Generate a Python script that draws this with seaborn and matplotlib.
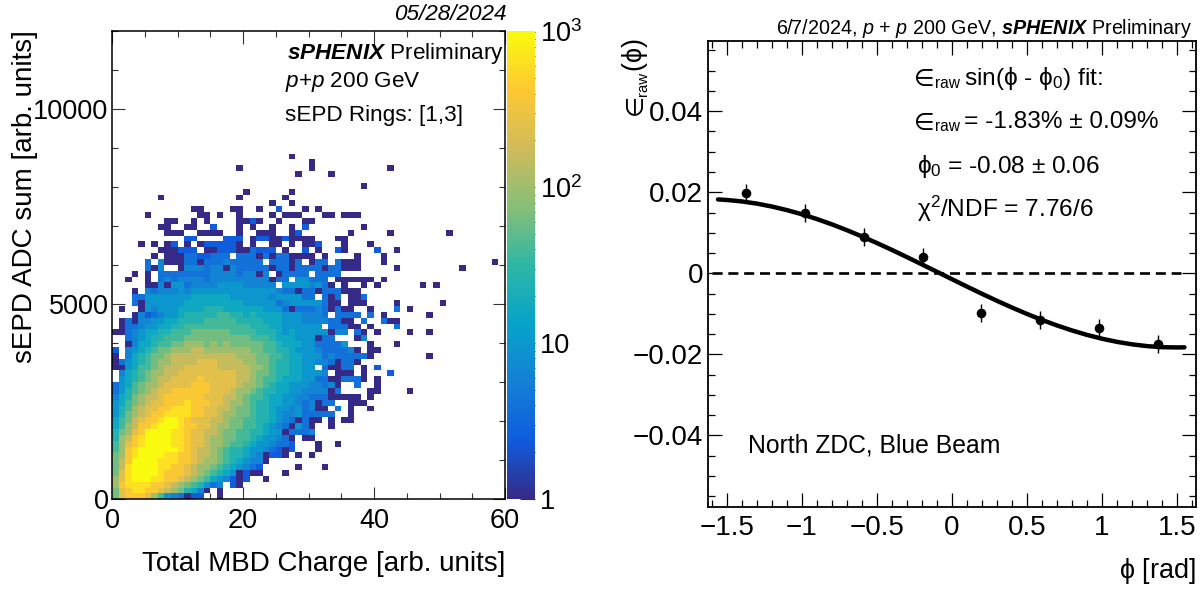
import numpy as np
import pandas as pd
import matplotlib
matplotlib.use("Agg")
import matplotlib.pyplot as plt
from matplotlib.colors import LinearSegmentedColormap, LogNorm
from matplotlib.ticker import FixedLocator, NullFormatter
import seaborn as sns

# ---- left panel: 60 x 60 cells, bottom row first; hex digit = count level, '.' = empty
COUNT_ROWS = [
 "9cdddca854 3022..0",
 "9cdeeddcba 97640.0",
 "adeeeeddcb a987534.20",
 "acefffeedd cba9865420 2..0",
 "9ceffffedd dcba987650 200...0",
 "9beffffeed dcbaa98765 432.....0. ..0",
 "9bdffffeee ddcbaa9876 5440......",
 "9adeffffee ddcbba9877 6540220.0. 0",
 "8adeffffff edcbba9877 65543202.. .0",
 "8acdeffffe edccbaa988 76554332.. .0..0",
 "7abdeffffe edccbaa998 87655430.0 0",
 "79acdffffe edccbba998 8776550333 4",
 "68abddefff eddccbaa99 8876543053 0..0",
 "689bcddeff edcccbba99 8877654303 00.0.00",
 "579abcddee eeddccbaa9 9877654453 3333..0",
 "578abccdde eeddccbba9 9877655453 400.3.0..0",
 "5689abccdd dedddccbaa 9877665543 4033..000.",
 "4679abbcdd ddddcccbba 9887665544 33300000.0",
 "35789abccd dddddcccba a987766554 44403....0 0....0",
 "35689aabcc ccdddccccb aa98766555 44340..3.. 0",
 ".56789abbc cccdcccccb ba98876665 533003330. 0",
 ".46789aabb cccccccccb ba99877665 554.000.0. ..2",
 "0056889abb bcccccbbbb baa9877665 5.30033.0. 2",
 "0356789aab bbbcccbbbb aa99877665 54430330",
 "0.467899ab bbbbbbbbba aa99887665 5534333330 ........0",
 "2.4567899a aabbaaaaaa a998877655 54333340.0 0",
 "..04667889 9aaa9a9a99 9998876665 533335...0 ...0",
 "..34567788 8999999999 9888766655 5033...04",
 "0034566778 8899999988 8877765655 555044.30. 0....0..0",
 ".033455667 7888888888 8777665555 55.33300.0 ...3",
 ".030445566 7777888887 7776665554 4443300.3. .300",
 "...0423455 6777778877 6766665554 443.3333.3 .0......0",
 ".0..054555 6666777666 6665553033 3430300..0 ...3.0",
 "...3055555 5666666666 5555534555 55300.000. ...0......0",
 "...3355555 5566666655 5555455553 3.303.003.",
 "...0.43444 5455555555 5555543303 30333000..",
 ".....00405 5344445555 44444.5555 4530.0..0. 0......0.0",
 "..0..0.343 4444344444 4444033.55 333.000000 .0",
 "...0.0.333 3333344443 4404.03333 .3333",
 ".....304.. 0444344043 3333033033 33033000.. ...0...... ...0",
 ".....3.400 0330333433 333.33303. 033.3000.. .0........ ........0",
 "......0.00 03322333.3 3303033000 0.0....0.. .0",
 ".......000 222.002220 03222.0..2 .0..20.... 2..0",
 "....0.0.02 .0.0222220 .0..00.0.0 02...0...0",
 ".......... .22....222 .022002000 0...00",
 "........00 0..0000..0 ..000..02. ......0... ..0....... .0",
 ".......00. .00..2...0 .0..0..0.2 ........0.",
 "........00 ..0.0....0 020..0...0 0",
 ".....0.... ...00.0..0 ....0.000. ..00.000",
 ".......... ..00....00 ..0..2...0 .0",
 ".......... .......... ....0..0",
 ".......0.. .........0 ......0",
 ".......... .......... 0......0",
 ".......... .......... .......... ........0",
 "",
 ".......... .......... ........0. ...0",
 ".......... .........0 .......... 0......... ..0",
 ".......... .......... .......... 0",
 ".......... .......... .......0",
 "",
]
LEVEL_COUNTS = {"0": 1, "1": 1.6, "2": 2.5, "3": 4, "4": 6.3, "5": 10, "6": 16, "7": 25,
                "8": 40, "9": 63, "a": 100, "b": 158, "c": 251, "d": 398, "e": 631, "f": 1000}
X_TICKS_L = [0, 20, 40, 60]
Y_TICKS_L = [0, 5000, 10000]

# ---- right panel
PHI = [-1.374, -0.982, -0.589, -0.196, 0.196, 0.589, 0.982, 1.374]
ASYM = [0.0198, 0.0148, 0.0089, 0.0041, -0.0099, -0.0115, -0.0136, -0.0175]
ASYM_ERR = [0.0022, 0.0022, 0.0022, 0.0022, 0.0022, 0.0022, 0.0022, 0.0022]
FIT_PHI = [-1.56, -1.5, -1.4, -1.3, -1.2, -1.1, -1.0, -0.9, -0.8, -0.7, -0.6, -0.5, -0.4, -0.3, -0.2, -0.1,
           0.0, 0.1, 0.2, 0.3, 0.4, 0.5, 0.6, 0.7, 0.8, 0.9, 1.0, 1.1, 1.2, 1.3, 1.4, 1.5, 1.55]
FIT_ASYM = [0.01823, 0.01809, 0.01773, 0.01719, 0.01647, 0.01559, 0.01456, 0.01338, 0.01207, 0.01063,
            0.00909, 0.00746, 0.00576, 0.00399, 0.00219, 0.00037, -0.00146, -0.00328, -0.00506, -0.00679,
            -0.00845, -0.01003, -0.01151, -0.01287, -0.01410, -0.01520, -0.01614, -0.01692, -0.01753,
            -0.01797, -0.01823, -0.01830, -0.01827]
X_TICKS_R = [-1.5, -1, -0.5, 0, 0.5, 1, 1.5]
X_LABELS_R = ["\u22121.5", "\u22121", "\u22120.5", "0", "0.5", "1", "1.5"]
Y_TICKS_R = [-0.04, -0.02, 0, 0.02, 0.04]
Y_LABELS_R = ["\u22120.04", "\u22120.02", "0", "0.02", "0.04"]

BIRD = [(0.2082, 0.1664, 0.5293), (0.0592, 0.3599, 0.8684), (0.0780, 0.5041, 0.8385),
        (0.0232, 0.6419, 0.7914), (0.1802, 0.7178, 0.6425), (0.5301, 0.7492, 0.4662),
        (0.8186, 0.7328, 0.3499), (0.9956, 0.7862, 0.1968), (0.9764, 0.9832, 0.0539)]

sns.set_theme(style="ticks")
plt.rcParams.update({
    "font.family": ["Liberation Sans", "DejaVu Sans"],
    "mathtext.fontset": "custom",
    "mathtext.rm": "Liberation Sans",
    "mathtext.it": "Liberation Sans:italic",
    "mathtext.bf": "Liberation Sans:bold",
    "mathtext.bfit": "Liberation Sans:italic:bold",
    "mathtext.fallback": "stixsans",
    "text.color": "black", "axes.labelcolor": "black",
    "xtick.color": "black", "ytick.color": "black",
})

W, H = 1201, 590
fig = plt.figure(figsize=(W / 100, H / 100), dpi=100, facecolor="white")


def box(x0, y0, x1, y1):
    return [x0 / W, 1 - y1 / H, (x1 - x0) / W, (y1 - y0) / H]


def label(x, y, s, size, ha="left", va="center", **kw):
    fig.text(x / W, 1 - y / H, s, fontsize=size, ha=ha, va=va, **kw)


def eps_raw(y):
    """The raw-asymmetry symbol with its subscript, baseline at pixel row y."""
    label(914, y + 1.5, "\u2208", 17, va="baseline", family="DejaVu Sans")
    label(935, y + 3, "raw", 11.2, va="baseline")


def frame(ax, lw=1.1):
    for sp in ax.spines.values():
        sp.set_visible(True)
        sp.set_linewidth(lw)
        sp.set_color("black")


# ---------------- left panel
grid = np.full((60, 60), np.nan)
for r, row in enumerate(COUNT_ROWS):
    for c, ch in enumerate(row.replace(" ", "")):
        if ch != ".":
            grid[r, c] = LEVEL_COUNTS[ch]
frame_df = pd.DataFrame(grid)

axL = fig.add_axes(box(112, 30.5, 505, 499.3))
cax = fig.add_axes(box(507, 30.5, 534.5, 499.3))
cmap = LinearSegmentedColormap.from_list("bird", BIRD, N=255)
sns.heatmap(frame_df, ax=axL, cbar_ax=cax, cmap=cmap, norm=LogNorm(vmin=1, vmax=1015),
            xticklabels=False, yticklabels=False, square=False)
axL.set_xlim(0, 60)
axL.set_ylim(0, 80)  # 150 units per row, 12000 at the top
axL.set_aspect("auto")
Y_UNIT = 150.0
axL.set_xticks(X_TICKS_L)
axL.set_xticklabels([str(v) for v in X_TICKS_L])
axL.set_yticks([v / Y_UNIT for v in Y_TICKS_L])
axL.set_yticklabels([str(v) for v in Y_TICKS_L], rotation=0)
axL.set_xticks(np.arange(0, 61, 5), minor=True)
axL.set_yticks(np.arange(0, 12001, 1000) / Y_UNIT, minor=True)
axL.tick_params(which="major", direction="in", length=9, width=0.8, top=True, right=True,
                labelsize=19.5, color="#333333", pad=6)
axL.tick_params(which="minor", direction="in", length=4.6, width=0.8, top=True, right=True, color="#333333")
axL.tick_params(axis="y", which="major", pad=2.5)
frame(axL)

cbar = axL.collections[0].colorbar
cbar.outline.set_visible(False)
cbar.set_ticks([1, 10, 100, 1000])
cbar.set_ticklabels(["1", "10", "$\\mathregular{10^{2}}$", "$\\mathregular{10^{3}}$"])
cax.yaxis.set_minor_locator(FixedLocator(
    [m * d for d in (1, 10, 100) for m in range(2, 10)]))
cax.yaxis.set_minor_formatter(NullFormatter())
cax.tick_params(which="major", direction="in", length=10.5, width=0.8, labelsize=19.5,
                color="#333333", pad=4, right=True, left=False)
cax.tick_params(which="minor", direction="in", length=5.2, width=0.8, color="#333333",
                right=True, left=False)

label(507, 14.5, "05/28/2024", 16.2, ha="right", style="italic")
label(287, 53, "$\\mathbfit{sPHENIX}$ Preliminary", 16.2)
label(285, 82, "$\\mathit{p}$+$\\mathit{p}$ 200 GeV", 16.2)
label(285, 115, "sEPD Rings: [1,3]", 16.2)
label(505, 564, "Total MBD Charge [arb. units]", 20, ha="right")
label(25, 30, "sEPD ADC sum [arb. units]", 20, ha="center", va="top", rotation=90)

# ---------------- right panel
axR = fig.add_axes(box(707.5, 40.7, 1195.7, 506.7))
sns.lineplot(x=FIT_PHI, y=FIT_ASYM, ax=axR, color="black", linewidth=3.2, errorbar=None, sort=False)
axR.errorbar(PHI, ASYM, yerr=ASYM_ERR, fmt="none", ecolor="black", elinewidth=1.0)
sns.scatterplot(x=PHI, y=ASYM, ax=axR, color="black", s=48, linewidth=0, zorder=5)
axR.plot([-1.6, 1.53], [0, 0], color="black", lw=1.9, dashes=(3.8, 2.2))
axR.set_xlim(-1.63, 1.625)
axR.set_ylim(-0.0576, 0.0574)
axR.set_xticks(X_TICKS_R)
axR.set_xticklabels(X_LABELS_R)
axR.set_yticks(Y_TICKS_R)
axR.set_yticklabels(Y_LABELS_R)
axR.set_xticks(np.arange(-1.6, 1.61, 0.1), minor=True)
axR.set_yticks(np.arange(-0.055, 0.0551, 0.005), minor=True)
axR.tick_params(which="major", direction="in", length=10, width=0.9, top=True, right=True,
                labelsize=20, pad=6)
axR.tick_params(which="minor", direction="in", length=5, width=0.9, top=True, right=True)
axR.tick_params(axis="y", which="major", pad=3)
frame(axR, 1.3)

label(1192, 28, "$\\mathit{6/7/2024}$, $\\mathit{p}$ + $\\mathit{p}$ 200 GeV, "
      "$\\mathbfit{sPHENIX}$ Preliminary", 14.2, ha="right")
eps_raw(85)
label(964, 85, "sin($\\mathrm{\\phi}$ - $\\mathrm{\\phi}_{0}$) fit:", 17.6, va="baseline")
eps_raw(128.3)
label(964, 128.3, "= -1.83% \u00b1 0.09%", 17.6, va="baseline")
label(917, 173, "$\\mathrm{\\phi}_{0}$ = -0.08 \u00b1 0.06", 17.6, va="baseline")
label(917, 216.7, "$\\mathrm{\\chi}^{2}$/NDF = 7.76/6", 17.6, va="baseline")
label(748, 445, "North ZDC, Blue Beam", 17.8)
label(1196, 571, "$\\mathrm{\\phi}$ [rad]", 19.5, ha="right")
label(642, 72, "($\\mathrm{\\phi}$)", 19.5, va="baseline", rotation=90, rotation_mode="anchor")
label(647, 96, "raw", 10.8, va="baseline", rotation=90, rotation_mode="anchor")
label(642, 115, "\u2208", 17.5, va="baseline", rotation=90, rotation_mode="anchor", family="DejaVu Sans")

fig.savefig("out.png", dpi=100, facecolor="white")
